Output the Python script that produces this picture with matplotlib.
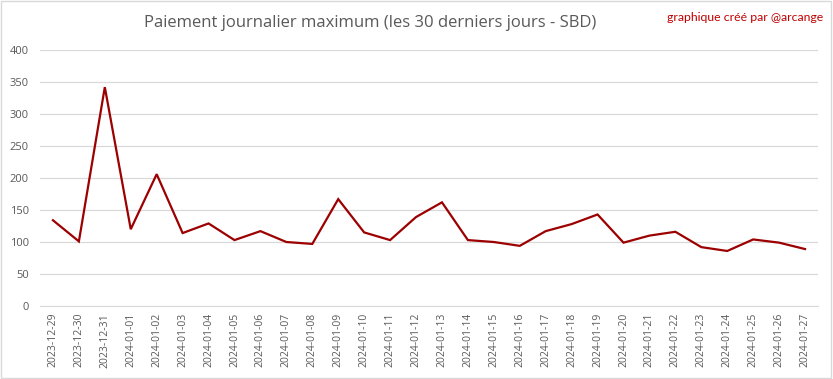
import matplotlib
matplotlib.use('Agg')
import matplotlib.pyplot as plt
from matplotlib.patches import Rectangle

dates = ['2023-12-29', '2023-12-30', '2023-12-31', '2024-01-01', '2024-01-02',
         '2024-01-03', '2024-01-04', '2024-01-05', '2024-01-06', '2024-01-07',
         '2024-01-08', '2024-01-09', '2024-01-10', '2024-01-11', '2024-01-12',
         '2024-01-13', '2024-01-14', '2024-01-15', '2024-01-16', '2024-01-17',
         '2024-01-18', '2024-01-19', '2024-01-20', '2024-01-21', '2024-01-22',
         '2024-01-23', '2024-01-24', '2024-01-25', '2024-01-26', '2024-01-27']
max_payout = [134, 101, 342, 120, 206, 114, 129, 103, 117, 100,
              97, 167, 115, 103, 139, 162, 103, 100, 94, 117,
              128, 143, 99, 110, 116, 92, 86, 104, 99, 89]
y_ticks = [0, 50, 100, 150, 200, 250, 300, 350, 400]

plt.rcParams['font.family'] = ['Open Sans', 'DejaVu Sans']

fig = plt.figure(figsize=(8.33, 3.79), dpi=100)
ax = fig.add_axes([0.048, 0.1926, 0.934, 0.6754])

x = list(range(len(dates)))
ax.plot(x, max_payout, color='#9c0000', lw=1.6, solid_joinstyle='miter')

ax.set_xlim(-0.5, len(dates) - 0.5)
ax.set_ylim(0, 400)
ax.set_yticks(y_ticks)
ax.set_xticks(x)
ax.set_xticklabels(dates, rotation=90, fontsize=7.5, color='#595959')
ax.tick_params(axis='y', labelsize=8, colors='#595959', length=0, pad=8)
ax.tick_params(axis='x', length=0, pad=5)
ax.grid(axis='y', color='#d9d9d9', lw=0.9)
ax.set_axisbelow(True)
for s in ['top', 'right', 'left']:
    ax.spines[s].set_visible(False)
ax.spines['bottom'].set_color('#d9d9d9')

fig.text(0.444, 0.94, 'Paiement journalier maximum (les 30 derniers jours - SBD)',
         ha='center', va='center', fontsize=12, color='#595959')
fig.text(0.988, 0.953, 'graphique créé par @arcange', ha='right', va='center',
         fontsize=8.8, color='#c00000', family=['Lato', 'DejaVu Sans'])

fig.patches.append(Rectangle((0.001, 0.002), 0.997, 0.995, transform=fig.transFigure,
                             fill=False, edgecolor='#d9d9d9', lw=1))

fig.savefig('out.png', dpi=100)
